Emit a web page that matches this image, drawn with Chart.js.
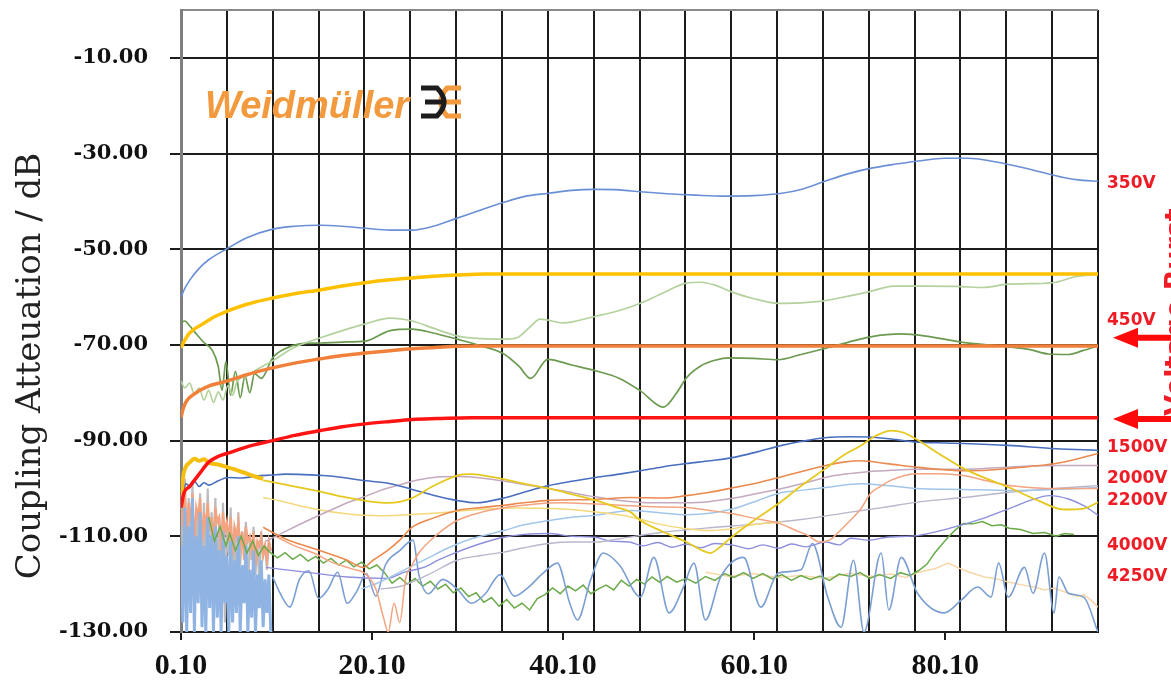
<!DOCTYPE html>
<html>
<head>
<meta charset="utf-8">
<script src="https://cdn.jsdelivr.net/npm/chart.js@4.4.1/dist/chart.umd.min.js"></script>
<style>
  html, body { margin: 0; padding: 0; background: #fff; }
  #wrap { width: 1171px; height: 687px; position: relative; }
</style>
</head>
<body>
<div id="wrap"><canvas id="chart"></canvas></div>
<script>
// axis ticks (MHz / dB)
const xGridMHz = [0.1, 4.9, 9.7, 14.5, 19.3, 24.1, 28.9, 33.7, 38.5, 43.3, 48.1, 52.9, 57.7, 62.5, 67.3, 72.1, 76.9, 81.7, 86.5, 91.3, 96.1]
const xLabelMHz = [0.1, 20.1, 40.1, 60.1, 80.1]
const yTickDb = [-130, -110, -90, -70, -50, -30, -10, 0]
const yTitle = 'Coupling Atteuation / dB'

// labels on the right
const voltLabels = ['350V', '450V', '1500V', '2000V', '2200V', '4000V', '4250V']
const voltLabelDb = [-36.2, -65, -91.5, -97.9, -102.5, -111.9, -118.5]
const arrowDb = [-68.5, -85.5]

// low frequency noise band
const noiseMHz = [0.1, 0.3, 0.5, 0.7, 0.9, 1.1, 1.3, 1.5, 1.7, 1.9, 2.1, 2.3, 2.5, 2.7, 2.9, 3.1, 3.3, 3.5, 3.7, 3.9, 4.1, 4.3, 4.5, 4.7, 4.9, 5.1, 5.3, 5.5, 5.7, 5.9, 6.1, 6.3, 6.5, 6.7, 6.9, 7.1, 7.3, 7.5, 7.7, 7.9, 8.1, 8.3, 8.5, 8.7, 8.9, 9.1, 9.3, 9.5]
const noiseLightBlue = [-112, -128, -104, -130, -108, -126, -102, -130, -110, -124, -105, -129, -112, -130, -106, -125, -110, -130, -108, -127, -113, -130, -109, -124, -114, -130, -111, -128, -115, -126, -110, -130, -116, -124, -112, -130, -117, -127, -113, -130, -118, -125, -115, -129, -119, -126, -118, -130]
const noiseGray = [-100, -118, -98, -122, -102, -115, -99, -126, -104, -112, -101, -120, -103, -116, -100, -124, -105, -113, -102, -121, -106, -117, -103, -128, -107, -114, -104, -119, -108, -123, -105, -116, -109, -112, -107, -125, -110, -115, -108, -118, -111, -120, -109, -114, -112, -117, -111, -113]
const noiseSalmon = [-104, -108, -100, -110, -103, -107, -101, -112, -104, -106, -102, -111, -105, -108, -103, -109, -106, -112, -104, -107, -106, -113, -105, -109, -107, -111, -106, -114, -108, -110, -107, -112, -109, -115, -108, -111, -110, -113, -109, -116, -111, -112, -110, -114, -112, -115, -111, -113]

// series [MHz, dB]
const s350V = [[0.1,-60],[0.5,-58.2],[1,-56.5],[2,-54],[3,-52.2],[5,-49.8],[7,-47.6],[9.7,-45.8],[12,-45.2],[14.7,-45],[17,-45.2],[19.4,-45.6],[22,-46],[24.3,-46],[26.5,-45.2],[29,-43.5],[31.5,-41.8],[33.9,-40.2],[36,-39],[38.6,-38.3],[41,-37.7],[43.5,-37.5],[46,-37.6],[48.2,-38],[51,-38.4],[54,-38.7],[57,-38.9],[60,-38.8],[63,-38.3],[65,-37.5],[67.5,-35.8],[70,-34.2],[72.5,-33],[75,-32.2],[77.5,-31.5],[80,-31],[82.5,-31],[85,-31.6],[87.5,-32.6],[90,-33.8],[92.5,-35],[94.5,-35.6],[96.1,-35.8]]
const goldLimit = [[0.1,-70.6],[0.5,-69],[1,-67.5],[2.4,-65.6],[3.5,-64.2],[5,-62.9],[7,-61.5],[9.7,-60.2],[12,-59.3],[14.7,-58.5],[17,-57.7],[19.4,-57],[22,-56.4],[24.3,-56],[27,-55.6],[29,-55.4],[32,-55.2],[50,-55.2],[70,-55.2],[96.1,-55.2]]
const orangeLimit = [[0.1,-85.2],[0.3,-83.5],[0.6,-82],[1,-81],[2,-79.6],[3,-78.6],[5,-77.5],[7,-76.2],[9.7,-74.8],[12,-73.8],[14.7,-72.9],[17,-72.2],[19.4,-71.7],[22,-71.2],[24.3,-70.8],[27,-70.5],[29,-70.3],[32,-70.2],[60,-70.2],[96.1,-70.2]]
const redLimit = [[0.1,-104],[0.4,-101],[1,-99.6],[2,-97],[3,-94.5],[4,-93.3],[5.2,-92.5],[7,-91.3],[9.7,-90],[12,-88.9],[14.7,-87.9],[17,-87.1],[19.4,-86.5],[22,-86],[24.3,-85.6],[27,-85.4],[30.4,-85.2],[60,-85.2],[96.1,-85.2]]
const lightGreen = [[0.1,-77.5],[0.5,-79],[1,-78],[1.5,-80.2],[2,-79],[2.5,-81.5],[3,-79.5],[3.5,-82],[4,-79.8],[4.5,-81.5],[5,-78.5],[5.5,-80.5],[6,-77.5],[7,-76.5],[8,-75.2],[9.7,-73.3],[12,-70.5],[14.7,-68.5],[17,-67],[19.4,-65.6],[22,-64.4],[24.3,-65],[26.5,-66.5],[29,-68.1],[31.5,-68.7],[33.9,-68.8],[35.3,-68.5],[36.5,-66.5],[37.7,-64.6],[40.1,-65.4],[43.5,-64],[46,-62.8],[48.2,-61.3],[50.5,-59.2],[53,-57.1],[54.5,-56.9],[56,-57.5],[57.6,-58.8],[60,-60.3],[62.6,-61.3],[65,-61.2],[67.4,-60.8],[69,-60.2],[72.3,-58.8],[74.7,-57.7],[78,-57.7],[81.8,-57.8],[84,-58],[86.7,-57.3],[89,-57.2],[91.7,-56.9],[93.6,-55.8],[96.1,-55.2]]
const darkGreen = [[0.1,-65.4],[0.5,-65],[1,-66],[1.7,-67.7],[2.5,-69.5],[3.4,-71.2],[4,-74.5],[4.4,-79.5],[4.8,-73.5],[5.3,-80.5],[5.8,-75.5],[6.3,-81],[6.8,-76.5],[7.3,-80],[7.8,-76],[8.5,-77],[9.7,-72.7],[11,-70.8],[12.5,-69.8],[14.7,-69.6],[17,-69.4],[19.4,-69.2],[22,-67],[24.3,-66.7],[26.5,-67.5],[29,-68.8],[31.5,-70.2],[33.9,-71.9],[35.5,-74.5],[36.7,-77],[38.5,-73],[41,-74.2],[43.5,-75.4],[46,-77],[48.2,-79.6],[50.6,-83],[52,-80],[53,-76.9],[54.5,-74.4],[56,-73.2],[57.6,-72.7],[60,-72.8],[62.6,-73.1],[65,-72],[67.4,-70.8],[70,-69.4],[72.3,-68.3],[75.5,-67.7],[77.9,-68.1],[81.8,-69.4],[84,-69.9],[86.7,-70.4],[89,-71],[90.9,-71.9],[93,-72],[94.5,-71.2],[96.1,-70.2]]
const blue1500V = [[0.3,-101],[0.6,-99],[1,-99.5],[1.5,-98.5],[2,-99.6],[2.5,-98.8],[3,-99.3],[4,-98.4],[5,-97.7],[6.5,-97.8],[8,-97.4],[9.5,-97.2],[11,-97],[13,-97.1],[15,-97.3],[17,-97.7],[19,-98.3],[22,-99],[24.3,-100.2],[26.5,-101.4],[29,-102.5],[31,-103],[33.9,-102],[36,-100.8],[38.6,-99.4],[41,-98.5],[43.5,-97.7],[46,-97],[48.2,-96.3],[50.5,-95.5],[53,-94.8],[55.5,-94.2],[58,-93.5],[60.5,-92.3],[63,-91],[65,-90.2],[67.5,-89.4],[70,-89.2],[72.4,-89.3],[75,-89.8],[77,-90.3],[80,-90.5],[82,-90.6],[86.7,-91],[91.7,-91.7],[96.1,-92]]
const goldEarly = [[0.1,-104],[0.3,-98],[0.6,-95.5],[1,-94.6],[1.5,-93.8],[2,-94.2],[2.5,-93.9],[3,-94.6],[4,-95],[5,-95.6],[6,-96.2],[7,-96.9],[8,-97.6],[8.7,-98]]
const yellowPeak = [[8.7,-98.3],[10.5,-99],[13,-100],[15,-100.8],[17,-101.7],[19.2,-102.5],[21.7,-103],[23,-102.8],[24.3,-102],[26.5,-99.5],[29,-97.3],[30.5,-97],[31.8,-97.3],[34,-98.1],[36,-99],[38.6,-100],[41,-101.2],[43.5,-102.5],[45.5,-103.8],[47.2,-105],[48.2,-106.7],[50.5,-109],[53,-111.2],[54.5,-112.8],[55.5,-113.5],[56.5,-112.3],[57.6,-110.4],[60,-106.8],[62.7,-103.1],[65,-99.5],[67.6,-95.8],[69.5,-93],[71.3,-91],[72.3,-89.6],[73.4,-88.5],[74.4,-87.9],[75.7,-88.3],[77,-89.6],[79.5,-92.8],[82,-95.8],[84.5,-98],[86.8,-99.8],[89.8,-102.5],[92.5,-104.4],[94.6,-104.2],[96.1,-102.9]]
const orangeThin = [[8.7,-108.1],[11,-110.5],[13.9,-112.5],[17.5,-115],[19.2,-116.5],[20.2,-115],[21.7,-113],[23,-110.8],[24.3,-108.1],[26.5,-106.2],[29,-104.6],[31.5,-104],[33.9,-103.5],[36,-103],[38.6,-102.5],[43.5,-102.3],[47.2,-101.9],[50.6,-102],[53,-101.5],[55.5,-100.8],[58,-99.8],[60.5,-98.8],[62.7,-97.7],[65,-96.5],[67.6,-95.2],[69.5,-94.5],[71.3,-94.2],[74,-94.8],[77.3,-95.6],[80,-96.1],[82,-96.3],[84.5,-96.2],[86.8,-95.8],[89,-95.4],[91.7,-94.8],[94,-93.8],[96.1,-92.7]]
const salmon = [[10,-110],[12,-112],[14,-113.5],[16,-115.5],[18,-116.8],[19.5,-118],[20.5,-121],[21.3,-127],[21.8,-130],[22.4,-124],[23,-128],[23.6,-119],[24.3,-116],[25,-113.5],[27,-109.5],[29,-106.7],[31.5,-105],[34,-104],[37,-103.3],[40,-103],[43,-103.2],[46,-103.5],[49.5,-103.8],[53,-104],[55.5,-104.6],[57.6,-105.2],[60,-106.2],[62.7,-107.3],[64.5,-108.8],[65.7,-109.8],[67,-111.2],[68,-110.8],[68.8,-109.4],[70,-107],[71.3,-104.2],[72.3,-101],[73.4,-99.5],[74.4,-98.3],[77,-96.9],[79.5,-96.9],[82,-97.3],[84.5,-98.4],[86.8,-99.4],[89,-99.8],[91,-100],[93.5,-100],[96.1,-100]]
const pinkGray = [[9,-111],[11.2,-108.8],[13.5,-106.6],[15.7,-104.6],[17.5,-103],[19.6,-101.5],[21,-100.4],[22.7,-99.4],[25,-98.2],[27,-97.6],[29,-97.5],[31.5,-97.8],[34,-98.5],[37,-99.5],[40,-100.5],[43,-101.6],[46,-102.5],[49.5,-103],[53,-103],[55.5,-102.7],[58,-102],[60.5,-101],[63,-100],[65.5,-98.8],[68,-97.5],[70,-96.9],[72,-96.5],[74.5,-96.2],[77,-96],[82,-96],[87,-95.5],[92,-95.2],[96.1,-95.2]]
const lavenderGray = [[21,-121],[23,-120.5],[26,-118],[29,-115],[31.5,-114],[33.9,-113.3],[36,-112.4],[38.6,-111.5],[41,-111.2],[43.5,-111.2],[46,-110.5],[50,-109.3],[55,-108.3],[60,-107.5],[65,-106.5],[70,-105],[73.5,-104],[77,-102.9],[82,-101.9],[86.8,-100.8],[91.7,-100],[96.1,-99.4]]
const lightBlueRise = [[19,-121],[21,-119.5],[22.5,-118],[24,-116.5],[26,-114.5],[28,-112.5],[30.5,-110.5],[33.9,-108.8],[36,-107.6],[38.6,-106.7],[41,-106],[43.5,-105.6],[47.2,-104.6],[50,-105],[53,-105.5],[55.5,-105.2],[58,-104.2],[60.5,-102.5],[62.7,-101],[65,-100.4],[67.6,-99.8],[71.3,-99],[74,-99.4],[77,-100],[82,-100.2],[86.8,-100.4],[91.7,-100.2],[96.1,-99.8]]
const paleYellow = [[8.7,-101.9],[10.5,-102.6],[12.5,-103.6],[15,-104.6],[17,-105.2],[19.2,-105.6],[21,-105.7],[23,-105.6],[26.5,-105.2],[30,-104.6],[35,-104.1],[40,-104.3],[43,-104.8],[46,-105.5],[48.5,-106.6],[50,-107.4],[53,-108.4],[55.5,-108.8],[57.5,-108.5],[60,-107.6],[63,-107]]
const greenLow = [[3,-106],[3.6,-111],[4.2,-108],[4.8,-112],[5.2,-109.4],[5.8,-113],[6.4,-110],[7,-113.5],[7.6,-111],[8.2,-114],[8.8,-112],[9.4,-113.3],[10.2,-114.5],[11,-113.4],[11.8,-114.8],[12.6,-113.8],[13.4,-115.2],[14.2,-114.2],[15,-115.6],[15.8,-114.6],[16.6,-116],[17.4,-115],[18.2,-116.4],[19,-115.4],[19.8,-116.8],[20.6,-116],[21.4,-117.6],[22.2,-119.8],[23,-118.6],[23.8,-120],[24.6,-118.8],[25.4,-120.4],[26.2,-119.4],[27,-121],[27.8,-120],[28.6,-121.8],[29.4,-120.8],[30.2,-122.6],[31,-121.8],[31.8,-123.8],[32.6,-122.8],[33.4,-124.6],[34.2,-123.2],[35,-125],[35.8,-124],[36.6,-125.4],[37.4,-123],[38.2,-122.2],[39,-120.8],[39.8,-122],[40.6,-120.4],[41.4,-121.4],[42.2,-120.2],[43,-122],[43.8,-121],[44.6,-120.2],[45.4,-121.2],[46.2,-119.2],[47,-120.4],[47.8,-119],[48.6,-120],[49.4,-118.5],[50.2,-119.6],[51,-118.4],[52,-119.6],[53,-118.8],[54,-119.8],[55,-118.4],[56,-119.2],[57,-117.8],[58,-118.6],[59,-117.6],[60,-118.8],[61,-117.8],[62,-118.9],[63,-118],[64,-119.2],[65,-118.2],[66,-119],[67,-118.3],[68,-119.2],[69,-117.9],[70.2,-118.4],[71.2,-117.6],[72.2,-118.8],[73.2,-118],[74.4,-118.8],[75.4,-117.6],[76.4,-118.2],[77.3,-117.2],[78.2,-115.8],[79,-113.5],[79.8,-111.6],[80.4,-110.2],[81.2,-108.6],[82,-107.3],[83,-107.4],[84,-106.9],[85,-107.8],[86,-107.6],[86.8,-108.3],[88,-108.6],[89.3,-109.4],[90.5,-109.2],[91.7,-110],[92.6,-109.4],[93.6,-109.6]]
const purple = [[9,-116.5],[14,-117.7],[17.5,-118.5],[21.7,-118.8],[23.5,-117.5],[25.5,-116.5],[27,-115],[29,-113.3],[31.5,-111.5],[33.9,-110.2],[36,-109.6],[38.6,-109.4],[41,-110],[43.5,-110.2],[45,-111],[47,-111.2],[48.5,-112],[50,-111.3],[51.5,-112.3],[53,-111.6],[54.5,-112.4],[56,-111.5],[58,-111.9],[59.5,-112.6],[61,-111.8],[62.7,-112.5],[64,-111.6],[65.5,-112.2],[67.6,-111.2],[69,-111.8],[70.2,-110.4],[72,-110.8],[74,-110.2],[77.3,-109.8],[80.6,-108.3],[84,-106.3],[86.8,-104.2],[89,-102.5],[91,-101.5],[93,-102.2],[94.5,-103.5],[96.1,-105.6]]
const steelBlue = [[9.7,-118.5],[10.5,-122],[11.5,-124.8],[12.5,-119],[13.5,-117.2],[14.5,-123],[15.5,-121],[16.5,-117.5],[17.5,-124],[18.5,-121.5],[19.5,-117.8],[20.5,-122.5],[21.5,-116],[23,-113],[24.4,-110.8],[25,-118],[26,-122],[27.5,-119],[29,-121],[30.5,-124],[32,-121.9],[33.5,-118],[35,-122.5],[36.5,-120.6],[38,-117.7],[39.5,-115.6],[40.8,-124],[41.6,-127.5],[43,-119],[44.3,-113.5],[46,-116],[48.2,-122.7],[49.6,-114.4],[51.2,-126],[52.7,-120.6],[53.8,-115.6],[55,-127.5],[56.6,-118.5],[59,-114.4],[60.8,-124.8],[62.6,-117.7],[65,-117],[66.2,-111.5],[67.8,-122.7],[69.2,-129],[70.5,-115],[71.6,-130],[73.4,-113.5],[74.2,-125.4],[75.5,-114.4],[77.2,-121.9],[80,-126],[81.8,-123.3],[83.5,-120.6],[84.9,-122.7],[85.7,-115.6],[86.7,-122.7],[88.4,-116.5],[89.3,-121.9],[90.5,-113.5],[91.5,-126],[92,-118.5],[93,-121.9],[94.6,-122.7],[96.1,-130]]
const peach = [[55,-117.5],[57.5,-118.4],[60,-117.8],[62.5,-118.6],[65,-118.2],[67.5,-118.8],[70.2,-117.7],[72.3,-118.4],[74.4,-117.9],[76,-118.6],[77.3,-117.5],[79,-116.8],[80.4,-115.6],[81.5,-116.6],[82.5,-117.4],[84.2,-118.5],[85.5,-118.9],[86.8,-119.6],[88,-120.1],[89.4,-120.6],[90.5,-121.2],[91.5,-120.8],[93,-121.9],[94,-122.6],[94.6,-122.2],[95.4,-123.4],[96.1,-124.8]]

const toPts = arr => arr.map(p => ({ x: p[0], y: p[1] }))
const zipPts = (xs, ys) => xs.map((x, i) => ({ x, y: ys[i] }))

// bottom to top
const lines = [
  { data: zipPts(noiseMHz, noiseGray), color: '#bcbcbc', width: 2.2, smooth: false },
  { data: zipPts(noiseMHz, noiseSalmon), color: '#f3a37f', width: 2.2, smooth: false },
  { data: zipPts(noiseMHz, noiseLightBlue), color: '#8fb4e3', width: 3, smooth: false },
  { data: toPts(peach), color: '#f7d6a8', width: 1.5, smooth: false },
  { data: toPts(greenLow), color: '#6aaa48', width: 1.5, smooth: false },
  { data: toPts(steelBlue), color: '#7b9ed3', width: 1.6, smooth: true },
  { data: toPts(purple), color: '#8c8fdc', width: 1.4, smooth: true },
  { data: toPts(lavenderGray), color: '#bab6cc', width: 1.4, smooth: true },
  { data: toPts(lightBlueRise), color: '#a2c6ea', width: 1.5, smooth: true },
  { data: toPts(paleYellow), color: '#f5d87a', width: 1.5, smooth: true },
  { data: toPts(salmon), color: '#f3a37f', width: 1.5, smooth: true },
  { data: toPts(pinkGray), color: '#c4a9bf', width: 1.5, smooth: true },
  { data: toPts(orangeThin), color: '#eb8a4e', width: 1.6, smooth: true },
  { data: toPts(blue1500V), color: '#4a6fc0', width: 1.6, smooth: true },
  { data: toPts(yellowPeak), color: '#e6c81e', width: 1.8, smooth: true },
  { data: toPts(goldEarly), color: '#f5bf10', width: 4, smooth: true },
  { data: toPts(darkGreen), color: '#6b9a50', width: 1.7, smooth: true },
  { data: toPts(lightGreen), color: '#b3d29d', width: 1.7, smooth: true },
  { data: toPts(s350V), color: '#6a8fd6', width: 1.6, smooth: true },
  { data: toPts(goldLimit), color: '#ffc000', width: 3.5, smooth: true },
  { data: toPts(orangeLimit), color: '#f0803a', width: 3.5, smooth: true },
  { data: toPts(redLimit), color: '#ff1414', width: 3.5, smooth: true }
]

const datasets = lines.map((l, i) => ({
  data: l.data,
  borderColor: l.color,
  borderWidth: l.width,
  cubicInterpolationMode: l.smooth ? 'monotone' : 'default',
  tension: l.smooth ? 0.4 : 0,
  pointRadius: 0,
  fill: false,
  order: lines.length - i
}))

const gridSet = new Set(xGridMHz)
const labelSet = new Set(xLabelMHz)
const allXTicks = Array.from(new Set(xGridMHz.concat(xLabelMHz))).sort((a, b) => a - b)

const decorations = {
  id: 'decorations',
  afterDraw (chart) {
    const { ctx, chartArea: a, scales: { y } } = chart
    // y axis title
    ctx.save()
    ctx.translate(31, 366)
    ctx.rotate(-Math.PI / 2)
    ctx.font = '34px "DejaVu Serif"'
    ctx.fillStyle = '#222'
    ctx.textAlign = 'center'
    ctx.textBaseline = 'middle'
    ctx.fillText(yTitle, 0, 0)
    ctx.restore()

    // logo
    ctx.save()
    ctx.font = 'italic bold 38px "Liberation Sans"'
    ctx.fillStyle = '#f39a3f'
    ctx.textBaseline = 'alphabetic'
    ctx.fillText('Weidmüller', a.left + 24, a.top + 108)
    const lx = a.left + 240
    const ly = a.top + 78
    ctx.lineWidth = 5
    ctx.lineCap = 'butt'
    ctx.strokeStyle = '#f39a3f'
    ctx.beginPath()
    ctx.moveTo(lx + 40, ly); ctx.lineTo(lx + 26, ly)
    ctx.quadraticCurveTo(lx + 14, ly + 14, lx + 26, ly + 28); ctx.lineTo(lx + 40, ly + 28)
    ctx.moveTo(lx + 22, ly + 14); ctx.lineTo(lx + 40, ly + 14)
    ctx.stroke()
    ctx.strokeStyle = '#1d1d1d'
    ctx.beginPath()
    ctx.moveTo(lx, ly); ctx.lineTo(lx + 16, ly)
    ctx.quadraticCurveTo(lx + 30, ly + 14, lx + 16, ly + 28); ctx.lineTo(lx, ly + 28)
    ctx.moveTo(lx + 4, ly + 14); ctx.lineTo(lx + 22, ly + 14)
    ctx.stroke()
    ctx.restore()

    // voltage labels
    ctx.save()
    ctx.font = 'bold 17px "DejaVu Sans"'
    ctx.fillStyle = '#ee1c25'
    ctx.textAlign = 'left'
    ctx.textBaseline = 'middle'
    voltLabels.forEach((t, i) => ctx.fillText(t, a.right + 9, y.getPixelForValue(voltLabelDb[i])))
    ctx.restore()

    // arrows
    ctx.save()
    ctx.fillStyle = '#ff0a0a'
    arrowDb.forEach(v => {
      const py = y.getPixelForValue(v)
      ctx.beginPath()
      ctx.moveTo(a.right + 15, py)
      ctx.lineTo(a.right + 40, py - 10)
      ctx.lineTo(a.right + 40, py - 3)
      ctx.lineTo(a.right + 80, py - 3)
      ctx.lineTo(a.right + 80, py + 3)
      ctx.lineTo(a.right + 40, py + 3)
      ctx.lineTo(a.right + 40, py + 10)
      ctx.closePath()
      ctx.fill()
    })
    ctx.restore()

    // rotated side text
    ctx.save()
    ctx.translate(a.right + 79, 312)
    ctx.rotate(-Math.PI / 2)
    ctx.font = 'bold 27px "DejaVu Sans"'
    ctx.fillStyle = '#ee1c25'
    ctx.textAlign = 'center'
    ctx.textBaseline = 'middle'
    ctx.fillText('Voltage Burst', 0, 0)
    ctx.restore()
  }
}

new Chart(document.getElementById('chart'), {
  type: 'line',
  data: { datasets },
  options: {
    responsive: true,
    maintainAspectRatio: false,
    animation: false,
    layout: { padding: { top: 10, right: 73, left: 0, bottom: 0 } },
    plugins: { legend: { display: false }, tooltip: { enabled: false } },
    scales: {
      x: {
        type: 'linear',
        min: 0.1,
        max: 96.1,
        afterBuildTicks: s => { s.ticks = allXTicks.map(v => ({ value: v })) },
        afterFit: s => { s.height = 55; s.paddingLeft = 0; s.paddingRight = 0 },
        grid: {
          color: c => gridSet.has(c.tick.value) ? '#1c1c1c' : 'rgba(0,0,0,0)',
          tickColor: c => labelSet.has(c.tick.value) ? '#1c1c1c' : 'rgba(0,0,0,0)',
          lineWidth: 2,
          tickLength: 8
        },
        border: { color: '#1c1c1c', width: 2 },
        ticks: {
          autoSkip: false,
          maxRotation: 0,
          padding: 8,
          color: '#111',
          font: { family: 'Liberation Serif', weight: 'bold', size: 30 },
          callback: v => labelSet.has(v) ? v.toFixed(2) : ''
        }
      },
      y: {
        type: 'linear',
        min: -130,
        max: 0,
        afterBuildTicks: s => { s.ticks = yTickDb.map(v => ({ value: v })) },
        afterFit: s => { s.width = 181; s.paddingTop = 0; s.paddingBottom = 0 },
        grid: {
          color: c => c.tick.value === 0 ? '#8a8a8a' : '#1c1c1c',
          tickColor: c => c.tick.value === 0 ? 'rgba(0,0,0,0)' : '#1c1c1c',
          lineWidth: 2,
          tickLength: 11
        },
        border: { color: '#7f7f7f', width: 3 },
        ticks: {
          padding: 22,
          color: '#111',
          font: { family: 'DejaVu Serif', weight: 'bold', size: 21 },
          callback: v => v === 0 ? '' : v.toFixed(2)
        }
      }
    }
  },
  plugins: [decorations]
})
</script>
</body>
</html>
